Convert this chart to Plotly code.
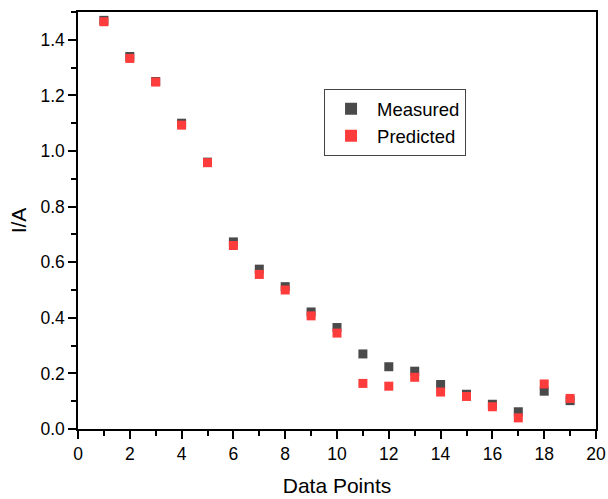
import plotly.graph_objects as go

x_points = list(range(1, 20))
measured = [1.470, 1.340, 1.250, 1.100, 0.960, 0.673, 0.575, 0.512, 0.421, 0.365,
            0.270, 0.224, 0.208, 0.160, 0.125, 0.089, 0.062, 0.136, 0.102]
predicted = [1.465, 1.333, 1.248, 1.093, 0.958, 0.660, 0.556, 0.500, 0.407, 0.345,
             0.164, 0.154, 0.186, 0.133, 0.117, 0.080, 0.040, 0.162, 0.110]

font_family = "Arial, Liberation Sans, sans-serif"

fig = go.Figure()
fig.add_trace(go.Scatter(x=x_points, y=measured, mode="markers", name="Measured",
                         marker=dict(symbol="square", size=9, color="#4a4a4a",
                                     line=dict(width=0))))
fig.add_trace(go.Scatter(x=x_points, y=predicted, mode="markers", name="Predicted",
                         marker=dict(symbol="square", size=9, color="#ff3c3c",
                                     line=dict(width=0))))

axis_common = dict(showgrid=False, zeroline=False, showline=True, linecolor="black",
                   linewidth=1.5, mirror=True, ticks="outside", ticklen=8, tickwidth=1.5,
                   tickcolor="black", automargin=False,
                   tickfont=dict(size=17.5, color="black", family=font_family))

fig.update_xaxes(range=[0, 20], dtick=2, tick0=0,
                 minor=dict(dtick=1, ticks="outside", ticklen=5, tickwidth=1.5, tickcolor="black"),
                 title=dict(text="Data Points", font=dict(size=21, color="black", family=font_family),
                            standoff=16),
                 **axis_common)
fig.update_yaxes(range=[0, 1.5], dtick=0.2, tick0=0, tickformat=".1f",
                 minor=dict(dtick=0.1, ticks="outside", ticklen=5, tickwidth=1.5, tickcolor="black"),
                 title=dict(text="I/A", font=dict(size=21, color="black", family=font_family),
                            standoff=8),
                 **axis_common)

fig.update_layout(
    width=608, height=499,
    margin=dict(l=78, r=12, t=12, b=70),
    paper_bgcolor="white", plot_bgcolor="white",
    font=dict(family=font_family, color="black"),
    showlegend=True,
    legend=dict(x=0.475, y=0.815, xanchor="left", yanchor="top",
                bordercolor="#444444", borderwidth=1, bgcolor="white",
                font=dict(size=18.5, color="black", family=font_family),
                itemsizing="constant", itemwidth=42, tracegroupgap=0),
)

fig.write_html("out.html")
